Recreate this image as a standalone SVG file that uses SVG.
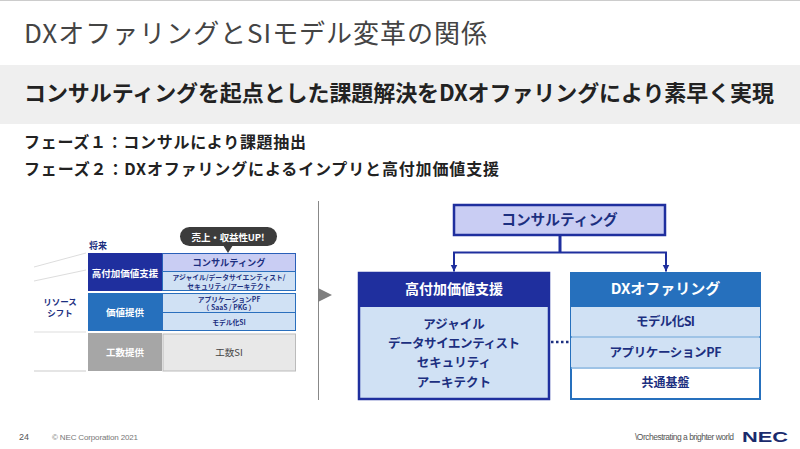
<svg xmlns="http://www.w3.org/2000/svg" width="800" height="449" viewBox="0 0 800 449">
<defs><marker id="ah" markerUnits="userSpaceOnUse" markerWidth="8" markerHeight="8" refX="7" refY="3.500" orient="auto"><path d="M0 0L7 3.500L0 7Z" fill="#1f2f9e"/></marker></defs>
<style>
text{font-family:"Noto Sans CJK JP","Noto Sans",sans-serif;text-anchor:middle}
.h{font-weight:700;fill:#222}
.s{font-weight:700;fill:#1c2f80}
.w{font-weight:700;fill:#fff}
.l{fill:none;stroke:#ddd;stroke-width:1}
.a{text-anchor:start}
.f{text-anchor:start;font-family:"Liberation Sans",sans-serif}
</style>
<rect width="800" height="449" fill="#fff"/>
<rect width="800" height="1" fill="#ccc"/>
<g id="header">
<text class="a" x="24" y="43" font-size="26" fill="#444" textLength="463">DXオファリングとSIモデル変革の関係</text>
<rect y="65" width="800" height="59" fill="#efefef"/>
<text class="h a" x="24" y="101" font-size="22" textLength="750">コンサルティングを起点とした課題解決をDXオファリングにより素早く実現</text>
<text class="h a" x="24" y="148" font-size="16" textLength="282">フェーズ１：コンサルにより課題抽出</text>
<text class="h a" x="24" y="175" font-size="16" textLength="475">フェーズ２：DXオファリングによるインプリと高付加価値支援</text>
</g>
<g id="resource-shift">
<path class="l" d="M34 267L86 253M34 281L86 270M34 332H86"/>
<path d="M34 371H86" fill="none" stroke="#ddd" stroke-width="1.500"/>
<text class="s" x="98" y="249" font-size="9">将来</text>
<text class="s" x="60" y="305" font-size="8.500">リソース<tspan x="60" dy="11">シフト</tspan></text>
</g>
<g id="upi-callout">
<rect x="180" y="227" width="97" height="19" rx="9.500" fill="#3c3c3c"/>
<path d="M223 245H233L228 253Z" fill="#3c3c3c"/>
<text class="w" x="228" y="241" font-size="9.500" textLength="73">売上・収益性UP!</text>
</g>
<g id="tier-high">
<rect x="88" y="253" width="74" height="38" fill="#1f2f9e"/>
<text class="w" x="125" y="277" font-size="9.500">高付加価値支援</text>
<rect x="162.500" y="253.500" width="133" height="18" fill="#c9cdf3" stroke="#2a5fb8"/>
<text class="s" x="229" y="266" font-size="9.200">コンサルティング</text>
<rect x="162.500" y="271.500" width="133" height="19" fill="#d0e1f4" stroke="#2a6fbd"/>
<text class="s" x="229" y="280" font-size="6.800">アジャイル/データサイエンティスト/<tspan x="229" dy="8.500">セキュリティ/アーキテクト</tspan></text>
</g>
<g id="tier-value">
<rect x="88" y="293" width="74" height="38" fill="#2670bd"/>
<text class="w" x="125" y="316" font-size="9.500">価値提供</text>
<rect x="162.500" y="293.500" width="133" height="19" fill="#d0e1f4" stroke="#2a6fbd"/>
<text class="s" x="229" y="301.500" font-size="6.800">アプリケーションPF<tspan x="229" dy="8.500">（ SaaS / PKG ）</tspan></text>
<rect x="162.500" y="312.500" width="133" height="18" fill="#d0e1f4" stroke="#2a6fbd"/>
<text class="s" x="229" y="324.500" font-size="6.800">モデル化SI</text>
</g>
<g id="tier-effort">
<rect x="88" y="333" width="74" height="38" fill="#a6a6a6"/>
<text class="w" x="125" y="356" font-size="9.500">工数提供</text>
<rect x="163" y="334" width="132.500" height="37" fill="#e8e8e8" stroke="#bbb"/>
<text x="229" y="355.500" font-size="9.500" fill="#444">工数SI</text>
</g>
<g id="divider">
<path d="M318.500 201V400" stroke="#888" stroke-width="1" fill="none"/>
<path d="M318 288L332 295L318 302Z" fill="#7f7f7f"/>
</g>
<g id="connectors">
<path d="M560 236V252" fill="none" stroke="#1f2f9e" stroke-width="3"/>
<path d="M560 252.500H454V271.500" fill="none" stroke="#1f2f9e" stroke-width="2" marker-end="url(#ah)"/>
<path d="M560 252.500H666V271.500" fill="none" stroke="#1f2f9e" stroke-width="2" marker-end="url(#ah)"/>
<path d="M551 342H569" fill="none" stroke="#1c2f80" stroke-width="2.500" stroke-dasharray="2.500 2.500"/>
</g>
<g id="consulting">
<rect x="454" y="205" width="211" height="30" fill="#c9cdf3" stroke="#1f2f9e" stroke-width="2.500"/>
<text class="s" x="559.500" y="225" font-size="14.700">コンサルティング</text>
</g>
<g id="high-value">
<rect x="359" y="273" width="190" height="126" fill="#d0e1f4" stroke="#1f2f9e" stroke-width="2.500"/>
<rect x="358" y="272" width="192" height="35" fill="#1f2f9e"/>
<text class="w" x="454" y="294" font-size="14">高付加価値支援</text>
<text class="s" x="454" y="329" font-size="12.500">アジャイル</text>
<text class="s" x="454" y="348" font-size="12.500" textLength="132">データサイエンティスト</text>
<text class="s" x="454" y="367" font-size="12.500">セキュリティ</text>
<text class="s" x="454" y="387" font-size="12.500">アーキテクト</text>
</g>
<g id="dx-offering">
<rect x="571" y="273" width="189" height="126" fill="#fff" stroke="#2670bd" stroke-width="2"/>
<rect x="570" y="272" width="191" height="35" fill="#2670bd"/>
<text class="w" x="665.500" y="294" font-size="15">DXオファリング</text>
<rect x="571" y="307" width="189" height="29" fill="#d0e1f4"/>
<rect x="571" y="338" width="189" height="29" fill="#d0e1f4"/>
<path d="M571 337H760M571 368H760" stroke="#7fb0de" stroke-width="1.500" fill="none"/>
<text class="s" x="665.500" y="326" font-size="12.500" textLength="59">モデル化SI</text>
<text class="s" x="665.500" y="357" font-size="12.500" textLength="112">アプリケーションPF</text>
<text class="s" x="665.500" y="387" font-size="12">共通基盤</text>
</g>
<g id="footer">
<text class="f" x="19" y="440" font-size="9" fill="#555">24</text>
<text class="f" x="52" y="440" font-size="8" fill="#777" textLength="86">© NEC Corporation 2021</text>
<text class="f" x="635" y="440" font-size="8.500" fill="#555" textLength="99">\Orchestrating a brighter world</text>
<text class="f" x="742" y="442" font-size="14" font-weight="700" fill="#1a2b6d" textLength="46" lengthAdjust="spacingAndGlyphs">NEC</text>
</g>
</svg>
